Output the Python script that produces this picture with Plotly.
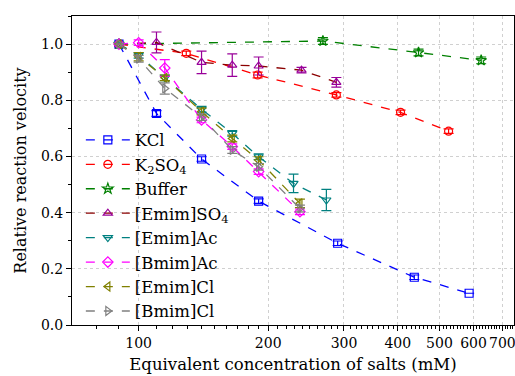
import plotly.graph_objects as go
import numpy as np

# ---- data ----
kcl_x = [90, 110, 140, 190, 290, 437, 586]
kcl_y = [1.0, 0.753, 0.591, 0.441, 0.291, 0.170, 0.113]
kcl_e = [0.0, 0.01, 0.008, 0.008, 0.008, 0.008, 0.0]

k2so4_x = [90, 129, 189, 288, 406, 525]
k2so4_y = [1.0, 0.967, 0.890, 0.819, 0.757, 0.690]
k2so4_e = [0.0, 0.008, 0.01, 0.008, 0.008, 0.008]

buf_x = [90, 268, 447, 625]
buf_y = [1.0, 1.011, 0.970, 0.942]
buf_e = [0.0, 0.012, 0.012, 0.012]

emso4_x = [90, 110, 140, 165, 190, 239, 288]
emso4_y = [1.0, 1.006, 0.935, 0.925, 0.922, 0.907, 0.864]
emso4_e = [0.0, 0.037, 0.04, 0.04, 0.032, 0.01, 0.017]

emac_x = [90, 100, 115, 140, 165, 190, 229, 273]
emac_y = [1.0, 0.96, 0.88, 0.768, 0.682, 0.599, 0.504, 0.445]
emac_e = [0.0, 0.01, 0.01, 0.01, 0.01, 0.01, 0.033, 0.038]

bmac_x = [90, 100, 115, 140, 165, 190, 237]
bmac_y = [1.0, 1.005, 0.915, 0.730, 0.635, 0.546, 0.403]
bmac_e = [0.0, 0.01, 0.03, 0.01, 0.01, 0.01, 0.01]

emcl_x = [90, 100, 115, 140, 165, 190, 237]
emcl_y = [1.0, 0.955, 0.880, 0.760, 0.664, 0.587, 0.433]
emcl_e = [0.0, 0.015, 0.01, 0.012, 0.012, 0.012, 0.015]

bmcl_x = [90, 100, 115, 140, 165, 190, 237]
bmcl_y = [1.0, 0.948, 0.842, 0.740, 0.623, 0.563, 0.415]
bmcl_e = [0.0, 0.012, 0.02, 0.012, 0.012, 0.012, 0.012]

names = ["KCl", "K<sub>2</sub>SO<sub>4</sub>", "Buffer", "[Emim]SO<sub>4</sub>",
         "[Emim]Ac", "[Bmim]Ac", "[Emim]Cl", "[Bmim]Cl"]

x_ticks_a = [100, 300, 500, 700]   # labelled on the main x axis
x_ticks_b = [200, 400, 600]        # labelled on an overlay x axis
x_minor = [v for v in range(80, 750, 10) if v % 100 != 0]
y_ticks = [0.0, 0.2, 0.4, 0.6, 0.8, 1.0]

series = [
    (kcl_x, kcl_y, kcl_e, "#0000FF", "#0000FF", "square-open"),
    (k2so4_x, k2so4_y, k2so4_e, "#FF0000", "#FF0000", "circle-open"),
    (buf_x, buf_y, buf_e, "#008000", "#008000", "star-open"),
    (emso4_x, emso4_y, emso4_e, "#8B0000", "#990099", "triangle-up-open"),
    (emac_x, emac_y, emac_e, "#008080", "#008080", "triangle-down-open"),
    (bmac_x, bmac_y, bmac_e, "#FF00FF", "#FF00FF", "diamond-open"),
    (emcl_x, emcl_y, emcl_e, "#808000", "#808000", "triangle-left-open"),
    (bmcl_x, bmcl_y, bmcl_e, "#808080", "#808080", "triangle-right-open"),
]

fig = go.Figure()
for (xs, ys, es, lc, mc, sym), nm in zip(series, names):
    fig.add_trace(go.Scatter(
        x=xs, y=ys, name=nm, mode="lines+markers",
        line=dict(color=lc, width=1.3, dash="dash"),
        marker=dict(symbol=sym, size=8, color=mc, line=dict(width=1.2, color=mc)),
        error_y=dict(type="data", array=es, color=mc, thickness=1.2, width=5),
    ))

xr = [np.log10(70), np.log10(745)]
FF = "DejaVu Serif"
grid = dict(showgrid=True, gridcolor="#d0d0d0", griddash="dot", gridwidth=1)
fig.update_layout(
    template="none",
    width=515, height=376,
    margin=dict(l=72, r=1, t=16, b=51),
    paper_bgcolor="white", plot_bgcolor="white",
    font_family=FF, font_size=15, font_color="black",
    showlegend=True,
    legend=dict(x=0.02, y=0.655, xanchor="left", yanchor="top",
                bgcolor="rgba(0,0,0,0)", font=dict(size=16.5, family=FF),
                itemwidth=44, tracegroupgap=0),
    xaxis=dict(type="log", range=xr,
               tickmode="array", tickvals=x_ticks_a, ticktext=[str(v) for v in x_ticks_a],
               tickangle=0, ticklabeloverflow="allow",
               ticks="outside", ticklen=5, tickwidth=1, tickcolor="black",
               showline=True, linecolor="black", linewidth=1, mirror=True,
               zeroline=False, **grid,
               title=dict(text="Equivalent concentration of salts (mM)",
                          font=dict(size=16.5, family=FF), standoff=8),
               tickfont=dict(size=14, family=FF)),
    xaxis2=dict(type="log", range=xr, overlaying="x", side="bottom", anchor="y",
                tickmode="array", tickvals=x_ticks_b, ticktext=[str(v) for v in x_ticks_b],
                tickangle=0, ticklabeloverflow="allow",
                ticks="outside", ticklen=5, tickwidth=1, tickcolor="black",
                showline=False, zeroline=False, **grid,
                tickfont=dict(size=14, family=FF)),
    xaxis3=dict(type="log", range=xr, overlaying="x", side="bottom", anchor="y",
                tickmode="array", tickvals=x_minor, showticklabels=False,
                ticks="outside", ticklen=3, tickcolor="black", showgrid=False,
                showline=False, zeroline=False),
    yaxis=dict(range=[0, 1.1], tickmode="array", tickvals=y_ticks,
               ticktext=["%.1f" % v for v in y_ticks],
               ticks="outside", ticklen=5, tickwidth=1, tickcolor="black",
               showline=True, linecolor="black", linewidth=1, mirror=True,
               zeroline=False, **grid,
               minor=dict(dtick=0.1, tick0=0, ticks="outside", ticklen=3,
                          tickcolor="black", showgrid=False),
               title=dict(text="Relative reaction velocity", font=dict(size=16, family=FF), standoff=10),
               tickfont=dict(size=14, family=FF)),
)
# helper traces so the overlay axes are drawn
fig.add_trace(go.Scatter(x=[100], y=[None], xaxis="x2", showlegend=False, hoverinfo="skip"))
fig.add_trace(go.Scatter(x=[100], y=[None], xaxis="x3", showlegend=False, hoverinfo="skip"))

fig.write_html("out.html")
